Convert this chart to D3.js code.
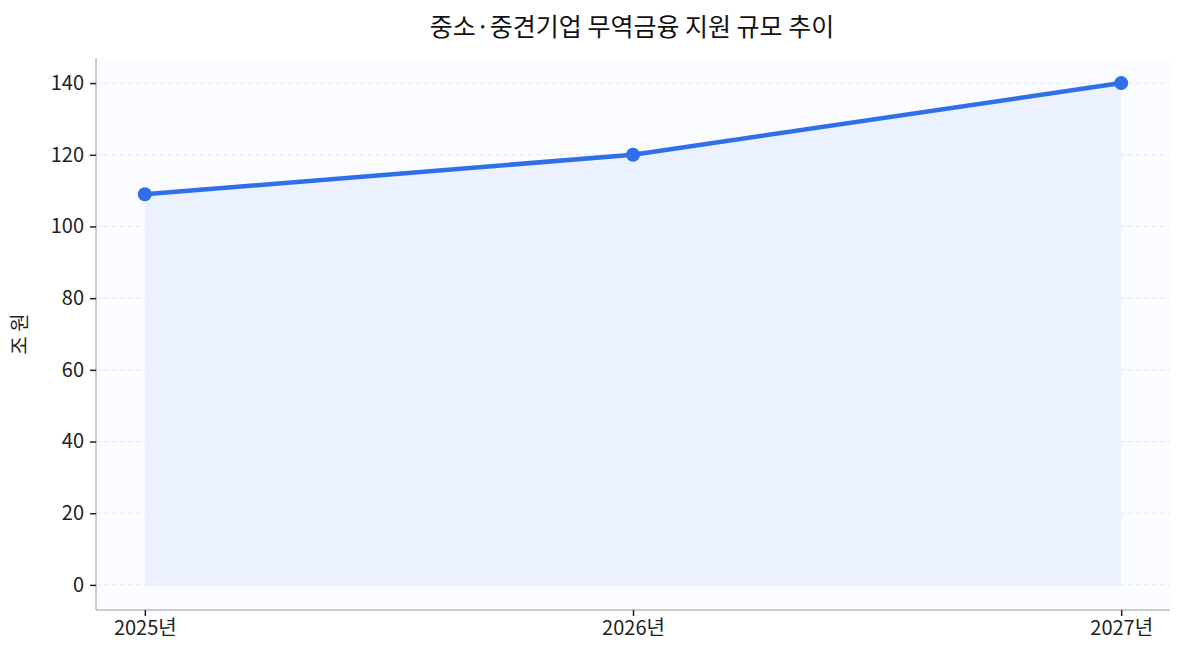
<!DOCTYPE html>
<html>
<head>
<meta charset="utf-8">
<script src="https://cdn.jsdelivr.net/npm/d3@7"></script>
<style>
  body { margin: 0; background: #fff; }
  svg { font-family: "Noto Sans CJK KR", "Noto Sans", sans-serif; }
</style>
</head>
<body>
<svg id="canvas"></svg>
<script>
const years = ["2025년", "2026년", "2027년"];
const values = [109, 120, 140];
const yTicks = [0, 20, 40, 60, 80, 100, 120, 140];

const width = 1185;
const height = 660;
const margin = { top: 58, right: 15, bottom: 50, left: 96 };

const svg = d3.select("#canvas")
  .attr("width", width)
  .attr("height", height);

const x = d3.scaleLinear()
  .domain([-0.1, 2.1])
  .range([margin.left, width - margin.right]);

const y = d3.scaleLinear()
  .domain([-7, 147])
  .range([height - margin.bottom, margin.top]);

// plot background
svg.append("rect")
  .attr("x", margin.left)
  .attr("y", margin.top)
  .attr("width", width - margin.left - margin.right)
  .attr("height", height - margin.top - margin.bottom)
  .attr("fill", "#fafcff");

// grid
svg.append("g")
  .selectAll("line")
  .data(yTicks)
  .enter()
  .append("line")
  .attr("x1", margin.left)
  .attr("x2", width - margin.right)
  .attr("y1", d => y(d))
  .attr("y2", d => y(d))
  .attr("stroke", "#e3e6ec")
  .attr("stroke-width", 1)
  .attr("stroke-dasharray", "5,3");

const pts = values.map((v, i) => [i, v]);

// area
svg.append("path")
  .datum(pts)
  .attr("fill", "#ebf1fe")
  .attr("d", d3.area().x(d => x(d[0])).y0(y(0)).y1(d => y(d[1])));

// line
svg.append("path")
  .datum(pts)
  .attr("fill", "none")
  .attr("stroke", "#2f6fea")
  .attr("stroke-width", 4.5)
  .attr("stroke-linejoin", "round")
  .attr("d", d3.line().x(d => x(d[0])).y(d => y(d[1])));

svg.append("g")
  .selectAll("circle")
  .data(pts)
  .enter()
  .append("circle")
  .attr("cx", d => x(d[0]))
  .attr("cy", d => y(d[1]))
  .attr("r", 7)
  .attr("fill", "#2f6fea");

// axes
const yAxis = svg.append("g")
  .attr("transform", `translate(${margin.left},0)`)
  .call(d3.axisLeft(y).tickValues(yTicks).tickSize(6).tickPadding(6));

const xAxis = svg.append("g")
  .attr("transform", `translate(0,${height - margin.bottom})`)
  .call(d3.axisBottom(x).tickValues([0, 1, 2]).tickFormat(i => years[i]).tickSize(6).tickPadding(5));

[yAxis, xAxis].forEach(g => {
  g.select(".domain").attr("stroke", "#bdbdbd").attr("stroke-width", 1.5);
  g.selectAll(".tick line").attr("stroke", "#222").attr("stroke-width", 1.5);
  g.selectAll(".tick text")
    .attr("fill", "#222")
    .style("font-size", "20px")
    .style("font-family", "'Noto Sans CJK KR', sans-serif");
});
// matplotlib style: spine without end caps
yAxis.select(".domain").attr("d", `M0,${margin.top}V${height - margin.bottom}`);
xAxis.select(".domain").attr("d", `M${margin.left},0H${width - margin.right}`);

// y label
svg.append("text")
  .attr("transform", `translate(27,${(margin.top + height - margin.bottom) / 2}) rotate(-90)`)
  .attr("text-anchor", "middle")
  .attr("fill", "#222")
  .style("font-size", "20px")
  .text("조 원");

// title
svg.append("text")
  .attr("x", 632)
  .attr("y", 36)
  .attr("text-anchor", "middle")
  .attr("fill", "#111")
  .style("font-size", "25px")
  .text("중소·중견기업 무역금융 지원 규모 추이");
</script>
</body>
</html>
